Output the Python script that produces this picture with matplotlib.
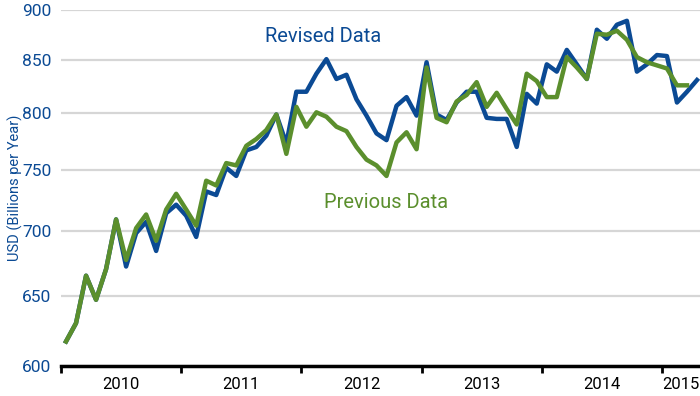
import matplotlib
matplotlib.use('Agg')
import matplotlib.pyplot as plt
from matplotlib.ticker import FixedLocator, NullLocator, FixedFormatter

plt.rcParams['font.family'] = ['Roboto', 'DejaVu Sans']

# monthly values, Jan 2010 onwards (USD bn per year)
revised = [617, 630, 665, 647, 670, 709, 672, 698, 707, 684, 714, 721,
           712, 695, 732, 729, 752, 745, 767, 770, 780, 799, 773, 820,
           820, 837, 851, 832, 836, 813, 798, 782, 776, 807, 815, 798,
           848, 799, 794, 810, 820, 820, 796, 795, 795, 770, 818, 809,
           846, 839, 860, 846, 832, 880, 871, 885, 889, 839, 846, 855,
           854, 810, 820, 831]
previous = [617, 630, 665, 647, 670, 709, 677, 702, 713, 692, 717, 730,
            717, 704, 741, 737, 756, 754, 771, 777, 785, 799, 764, 806,
            788, 801, 797, 788, 784, 770, 759, 754, 745, 774, 783, 768,
            843, 796, 792, 811, 817, 829, 806, 819, 804, 790, 837, 830,
            815, 815, 853, 843, 832, 876, 875, 879, 870, 853, 848, 845,
            842, 826, 826]
years = ['2010', '2011', '2012', '2013', '2014', '2015']
y_ticks = [600, 650, 700, 750, 800, 850, 900]

blue = '#0b4a94'
green = '#5b8f2d'

fig = plt.figure(figsize=(7, 3.96), dpi=100)
ax = fig.add_axes([61/700, 30/396, 639/700, 356/396])

ax.plot(range(len(revised)), revised, color=blue, lw=3.2, zorder=3)
ax.plot(range(len(previous)), previous, color=green, lw=3.2, zorder=4)

ax.set_yscale('log')
ax.set_ylim(600, 900)
x_right = 63.3
ax.set_xlim(-0.5, x_right)

ax.yaxis.set_major_locator(FixedLocator(y_ticks))
ax.yaxis.set_major_formatter(FixedFormatter([str(v) for v in y_ticks]))
ax.yaxis.set_minor_locator(NullLocator())
ax.tick_params(axis='y', length=0, pad=7, labelsize=12.5, labelcolor=blue)
ax.grid(axis='y', color='#d6d6d6', lw=1.6, zorder=0)

# year boundaries as ticks, labels centred in each year
bounds = [-0.5 + 12 * k for k in range(len(years))]
label_pos = [b + 6 for b in bounds[:-1]] + [(bounds[-1] + x_right) / 2]
ax.xaxis.set_major_locator(FixedLocator(bounds))
ax.xaxis.set_major_formatter(FixedFormatter([''] * len(bounds)))
ax.xaxis.set_minor_locator(FixedLocator(label_pos))
ax.xaxis.set_minor_formatter(FixedFormatter(years))
ax.tick_params(axis='x', which='major', length=5, width=2, color='black', direction='out')
ax.tick_params(axis='x', which='minor', length=0, pad=8, labelsize=12)

for s in ['top', 'right', 'left']:
    ax.spines[s].set_visible(False)
ax.spines['bottom'].set_linewidth(2.5)
ax.spines['bottom'].set_zorder(5)

ax.set_ylabel('USD (Billions per Year)', color=blue, fontsize=10.5)
ax.yaxis.set_label_coords(-0.06, 0.5)

ax.text(25.7, 873, 'Revised Data', color=blue, fontsize=14.5, ha='center', va='center')
ax.text(32.0, 723, 'Previous Data', color=green, fontsize=14.5, ha='center', va='center')

fig.savefig('out.png', dpi=100)
